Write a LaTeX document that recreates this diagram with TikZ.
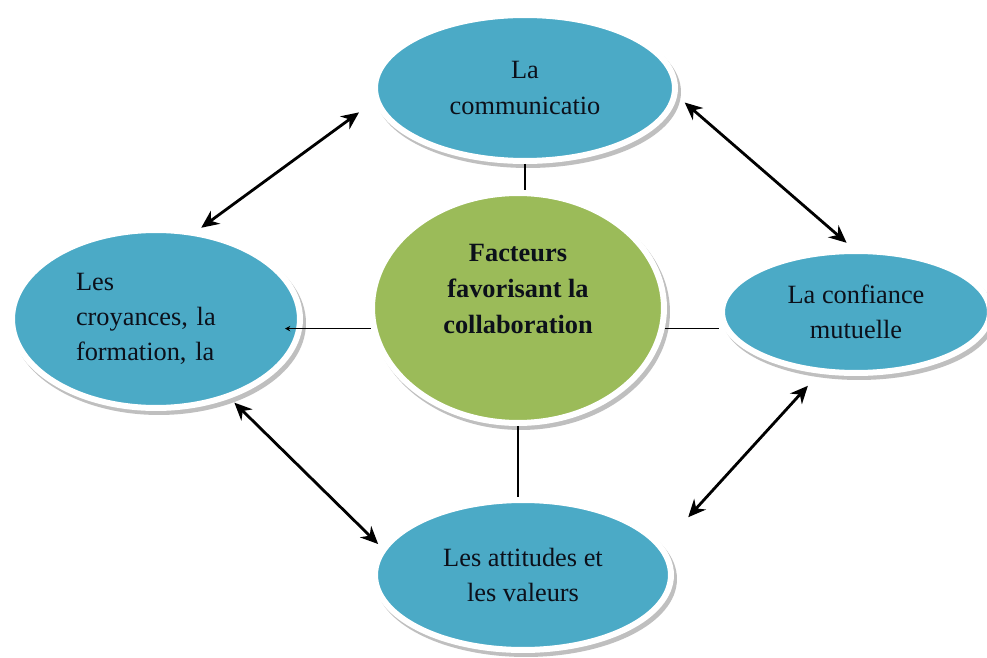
\documentclass[tikz,border=0pt]{standalone}
\usepackage{fontspec}
\setmainfont{Liberation Serif}
\usetikzlibrary{shapes.geometric,arrows.meta}
\definecolor{bleubulle}{RGB}{75,170,198}
\definecolor{vertcentre}{RGB}{155,187,89}
\definecolor{encre}{RGB}{12,16,26}
\tikzset{
  bulle/.style={ellipse, fill=#1, draw=white, line width=0.12cm, inner sep=0pt, align=center, text=encre,
    font=\fontsize{15}{20}\selectfont,
    preaction={draw=black!25, line width=0.12cm, transform canvas={xshift=0.06cm,yshift=-0.08cm}}},
  bulle/.default=bleubulle,
  lien/.style={line width=0.9pt, black},
  dbl/.style={{Stealth[length=10pt,width=9pt]}-{Stealth[length=10pt,width=9pt]}, line width=1.6pt, black}
}
\begin{document}
\begin{tikzpicture}[x=0.02cm, y=-0.02cm]
\useasboundingbox[fill=white] (0,0) rectangle (987,658);
\node [bulle, minimum width=6cm, minimum height=2.92cm] (com) at (525,88) {La\\communicatio};
\node [bulle, minimum width=5.76cm, minimum height=3.56cm, align=left, text width=3.2cm] (cro) at (156,319) {Les\\croyances, la\\formation, la};
\node [bulle=vertcentre, minimum width=5.84cm, minimum height=4.6cm,
  label={[font=\bfseries\fontsize{15}{20.5}\selectfont, align=center, text=encre, yshift=0.38cm]center:Facteurs\\favorisant la\\collaboration}] (fac) at (518,308) {};
\node [bulle, minimum width=5.36cm, minimum height=2.44cm] (conf) at (856,312) {La confiance\\mutuelle};
\node [bulle, minimum width=5.92cm, minimum height=3cm] (att) at (523,575) {Les attitudes et\\les valeurs};
\draw [lien] (com.south) -- (com.south |- fac.north);
\draw [lien, {Stealth[length=3pt,width=3pt]}-] ([xshift=-0.36cm]cro.east |- fac.-172) -- (fac.-172);
\draw [lien] (fac.-8) -- (fac.-8 -| conf.west);
\draw [lien] (fac.south) -- (fac.south |- att.north);
\draw [dbl, shorten <=0.1cm, shorten >=0.38cm] (cro.65) -- (com.185);
\draw [dbl, shorten <=0.2cm, shorten >=0.16cm] (com.-3) -- (conf.93);
\draw [dbl, shorten <=0.12cm, shorten >=0.1cm] (cro.-47) -- (att.169);
\draw [dbl, shorten <=0.76cm, shorten >=0.33cm] (att.12) -- (conf.-121);
\end{tikzpicture}
\end{document}
